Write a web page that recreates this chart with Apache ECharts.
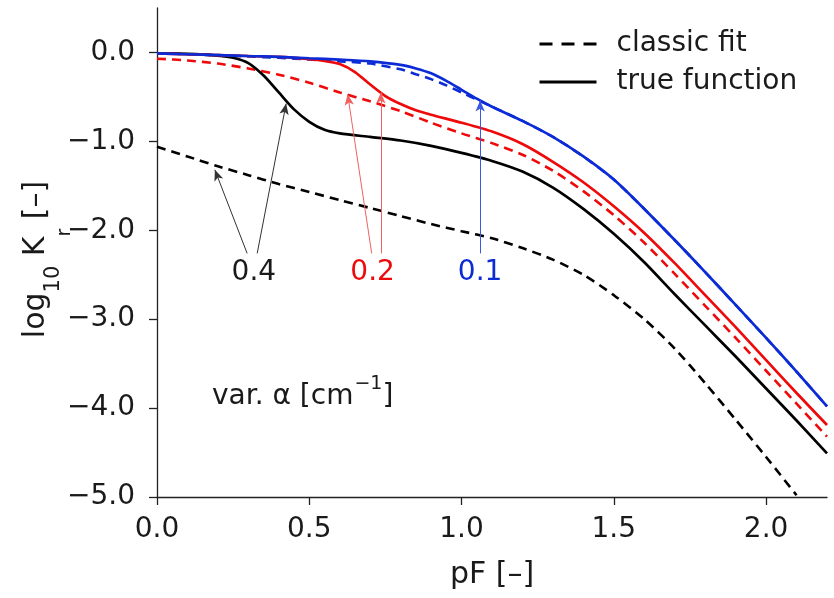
<!DOCTYPE html>
<html>
<head>
<meta charset="utf-8">
<script src="https://cdn.jsdelivr.net/npm/echarts@6/dist/echarts.min.js"></script>
<style>
html,body{margin:0;padding:0;background:#fff;}
#chart{width:834px;height:598px;}
</style>
</head>
<body>
<div id="chart"></div>
<script>
// ---- data ----
const xTicks = [0, 0.5, 1.0, 1.5, 2.0];
const yTicks = [-5, -4, -3, -2, -1, 0];

const blueTrueX = [0,0.1,0.2,0.3,0.4,0.5,0.6,0.7,0.8,0.85,0.9,0.95,1.0,1.05,1.1,1.2,1.3,1.4,1.5,1.6,1.7,1.8,1.9,2.0,2.1,2.2];
const blueTrueY = [-0.01,-0.02,-0.03,-0.04,-0.05,-0.065,-0.08,-0.1,-0.14,-0.18,-0.235,-0.32,-0.42,-0.52,-0.61,-0.77,-0.95,-1.17,-1.43,-1.76,-2.11,-2.47,-2.84,-3.21,-3.59,-3.98];
const blueFitX  = [0,0.1,0.2,0.3,0.4,0.5,0.6,0.7,0.8,0.85,0.9,0.95,1.0,1.05,1.1,1.2,1.3,1.4,1.5,1.6,1.7,1.8,1.9,2.0,2.1,2.2];
const blueFitY  = [-0.01,-0.02,-0.03,-0.045,-0.06,-0.08,-0.1,-0.125,-0.19,-0.245,-0.3,-0.37,-0.45,-0.53,-0.61,-0.77,-0.95,-1.17,-1.43,-1.76,-2.11,-2.47,-2.84,-3.21,-3.59,-3.98];

const redTrueX = [0,0.1,0.2,0.3,0.4,0.5,0.55,0.6,0.65,0.7,0.75,0.8,0.85,0.9,1.0,1.1,1.2,1.3,1.4,1.5,1.6,1.7,1.8,1.9,2.0,2.1,2.2];
const redTrueY = [-0.01,-0.02,-0.03,-0.04,-0.05,-0.075,-0.095,-0.13,-0.22,-0.36,-0.49,-0.58,-0.65,-0.7,-0.79,-0.89,-1.03,-1.23,-1.46,-1.73,-2.03,-2.37,-2.73,-3.09,-3.46,-3.83,-4.19];
const redFitX  = [0,0.1,0.2,0.3,0.4,0.5,0.6,0.7,0.8,0.9,1.0,1.1,1.2,1.3,1.4,1.5,1.6,1.7,1.8,1.9,2.0,2.1,2.2];
const redFitY  = [-0.07,-0.09,-0.125,-0.18,-0.25,-0.34,-0.45,-0.55,-0.66,-0.79,-0.91,-1.02,-1.15,-1.33,-1.56,-1.83,-2.14,-2.49,-2.85,-3.21,-3.58,-3.95,-4.32];

const blackTrueX = [0,0.1,0.2,0.25,0.3,0.35,0.4,0.45,0.5,0.55,0.6,0.7,0.8,0.9,1.0,1.1,1.2,1.3,1.4,1.5,1.6,1.7,1.8,1.9,2.0,2.1,2.2];
const blackTrueY = [-0.01,-0.015,-0.035,-0.06,-0.12,-0.26,-0.45,-0.64,-0.78,-0.87,-0.91,-0.95,-0.99,-1.05,-1.13,-1.22,-1.34,-1.52,-1.76,-2.04,-2.36,-2.72,-3.07,-3.42,-3.78,-4.14,-4.51];
const blackFitX  = [0,0.1,0.2,0.3,0.4,0.5,0.6,0.7,0.8,0.9,1.0,1.1,1.2,1.3,1.4,1.5,1.6,1.7,1.8,1.9,2.0,2.1];
const blackFitY  = [-1.06,-1.17,-1.28,-1.38,-1.48,-1.57,-1.66,-1.75,-1.84,-1.93,-2.01,-2.09,-2.2,-2.33,-2.5,-2.73,-3.0,-3.33,-3.72,-4.13,-4.55,-4.98];

// annotation labels (alpha values) and arrow endpoints, in data units
const alphaLabels = ['0.4', '0.2', '0.1'];
const alphaLabelPos = [[0.318, -2.48], [0.708, -2.48], [1.061, -2.48]];
const blackArrows = [[[0.296, -2.26], [0.19, -1.32]], [[0.329, -2.26], [0.424, -0.575]]];
const redArrows   = [[[0.705, -2.26], [0.626, -0.47]], [[0.735, -2.26], [0.735, -0.45]]];
const blueArrows  = [[[1.061, -2.26], [1.061, -0.54]]];

const legendNames = ['classic fit', 'true function'];

// ---- style ----
const FONT = 'DejaVu Sans';
const TXT = '#1a1a1a';
const BLACK = '#000000';
const RED = '#ee0a0a';
const BLUE = '#0b2bd6';
const DASH = [9, 6];

function pairs(xs, ys) { return xs.map((x, i) => [x, ys[i]]); }
function fmt(v) { return (v < 0 ? '\u2212' : '') + Math.abs(v).toFixed(1); }

function curve(name, xs, ys, color, dashed, extra) {
  return Object.assign({
    name: name,
    type: 'line',
    data: pairs(xs, ys),
    showSymbol: false,
    symbol: 'none',
    smooth: 0.25,
    clip: true,
    lineStyle: { color: color, width: dashed ? 2.6 : 2.7, type: dashed ? DASH : 'solid', cap: 'butt' },
    itemStyle: { color: color },
    z: dashed ? 2 : 3
  }, extra || {});
}

function arrows(list, color) {
  return {
    silent: true,
    symbol: ['none', 'arrow'],
    symbolSize: [7, 11],
    label: { show: false },
    lineStyle: { color: color, width: 1, type: 'solid' },
    itemStyle: { color: color },
    emphasis: { disabled: true },
    data: list.map(a => [{ coord: a[0] }, { coord: a[1] }])
  };
}

function alphaMark(i, color) {
  return {
    silent: true,
    symbol: 'circle',
    symbolSize: 1,
    itemStyle: { color: 'rgba(0,0,0,0)' },
    label: {
      show: true, position: 'inside', formatter: alphaLabels[i],
      fontFamily: FONT, fontSize: 28, color: color
    },
    data: [{ coord: alphaLabelPos[i] }]
  };
}

const chart = echarts.init(document.getElementById('chart'), null, { renderer: 'canvas' });

const option = {
  animation: false,
  backgroundColor: '#ffffff',
  grid: { left: 157, right: 7, top: 8, bottom: 101, containLabel: false, outerBoundsMode: 'none' },
  xAxis: {
    type: 'value', min: 0, max: 2.2, interval: 0.5,
    name: 'pF [\u2013]', nameLocation: 'middle', nameGap: 63,
    nameTextStyle: { fontFamily: FONT, fontSize: 30, color: TXT, lineHeight: 30 },
    axisLine: { show: true, onZero: false, lineStyle: { color: '#222', width: 1.3 } },
    axisTick: { show: true, inside: false, length: 8, customValues: xTicks, lineStyle: { color: '#222', width: 1.3 } },
    axisLabel: { customValues: xTicks, formatter: fmt, margin: 19, fontFamily: FONT, fontSize: 28, color: TXT, lineHeight: 28 },
    splitLine: { show: false }
  },
  yAxis: {
    type: 'value', min: -5, max: 0.5, interval: 1,
    name: '{m|log}{s|10}{m| K}{r|r}{m| [\u2013]}', nameLocation: 'middle', nameGap: 101,
    nameMoveOverlap: false,
    nameTextStyle: {
      fontFamily: FONT, fontSize: 30, color: TXT, padding: [0, 14, 0, 0],
      rich: {
        m: { fontFamily: FONT, fontSize: 30, color: TXT, lineHeight: 40 },
        s: { fontFamily: FONT, fontSize: 21, color: TXT, lineHeight: 40, padding: [36, 0, 0, 0] },
        r: { fontFamily: FONT, fontSize: 19, color: TXT, lineHeight: 40, padding: [58, 0, 0, 0] }
      }
    },
    axisLine: { show: true, onZero: false, lineStyle: { color: '#222', width: 1.3 } },
    axisTick: { show: true, inside: false, length: 8, customValues: yTicks, lineStyle: { color: '#222', width: 1.3 } },
    axisLabel: { customValues: yTicks, formatter: fmt, margin: 22, fontFamily: FONT, fontSize: 28, color: TXT },
    splitLine: { show: false }
  },
  legend: {
    orient: 'vertical', left: 538, top: 30, padding: 0,
    itemWidth: 57, itemHeight: 14, itemGap: 10,
    selectedMode: false,
    data: [
      { name: legendNames[0], lineStyle: { width: 3, type: [13, 9] } },
      { name: legendNames[1], lineStyle: { width: 3 } }
    ],
    itemStyle: { opacity: 0 },
    lineStyle: { width: 3 },
    textStyle: { fontFamily: FONT, fontSize: 28, color: TXT, lineHeight: 28, padding: [0, 0, 0, 15] }
  },
  graphic: [{
    type: 'text', x: 212, y: 397, silent: true,
    style: {
      text: '{m|var. \u03b1 [cm}{s|\u22121}{m|]}',
      verticalAlign: 'middle', align: 'left',
      rich: {
        m: { fontFamily: FONT, fontSize: 28, fill: TXT, lineHeight: 36 },
        s: { fontFamily: FONT, fontSize: 19, fill: TXT, lineHeight: 36, padding: [0, 0, 26, 1] }
      }
    }
  }],
  series: [
    curve('classic fit 0.4', blackFitX, blackFitY, BLACK, true),
    curve('true function 0.4', blackTrueX, blackTrueY, BLACK, false, { markLine: arrows(blackArrows, '#333333'), markPoint: alphaMark(0, '#1a1a1a') }),
    curve('classic fit 0.2', redFitX, redFitY, RED, true),
    curve('true function 0.2', redTrueX, redTrueY, RED, false, { markLine: arrows(redArrows, '#f06262'), markPoint: alphaMark(1, RED) }),
    curve('classic fit 0.1', blueFitX, blueFitY, BLUE, true),
    curve('true function 0.1', blueTrueX, blueTrueY, BLUE, false, { markLine: arrows(blueArrows, '#3a58e0'), markPoint: alphaMark(2, BLUE) }),
    { name: 'classic fit', type: 'line', data: [], symbol: 'none', symbolSize: 0, lineStyle: { color: BLACK, width: 3, type: [13, 9] }, itemStyle: { color: BLACK } },
    { name: 'true function', type: 'line', data: [], symbol: 'none', symbolSize: 0, lineStyle: { color: BLACK, width: 3, type: 'solid' }, itemStyle: { color: BLACK } }
  ]
};

chart.setOption(option);
</script>
</body>
</html>
